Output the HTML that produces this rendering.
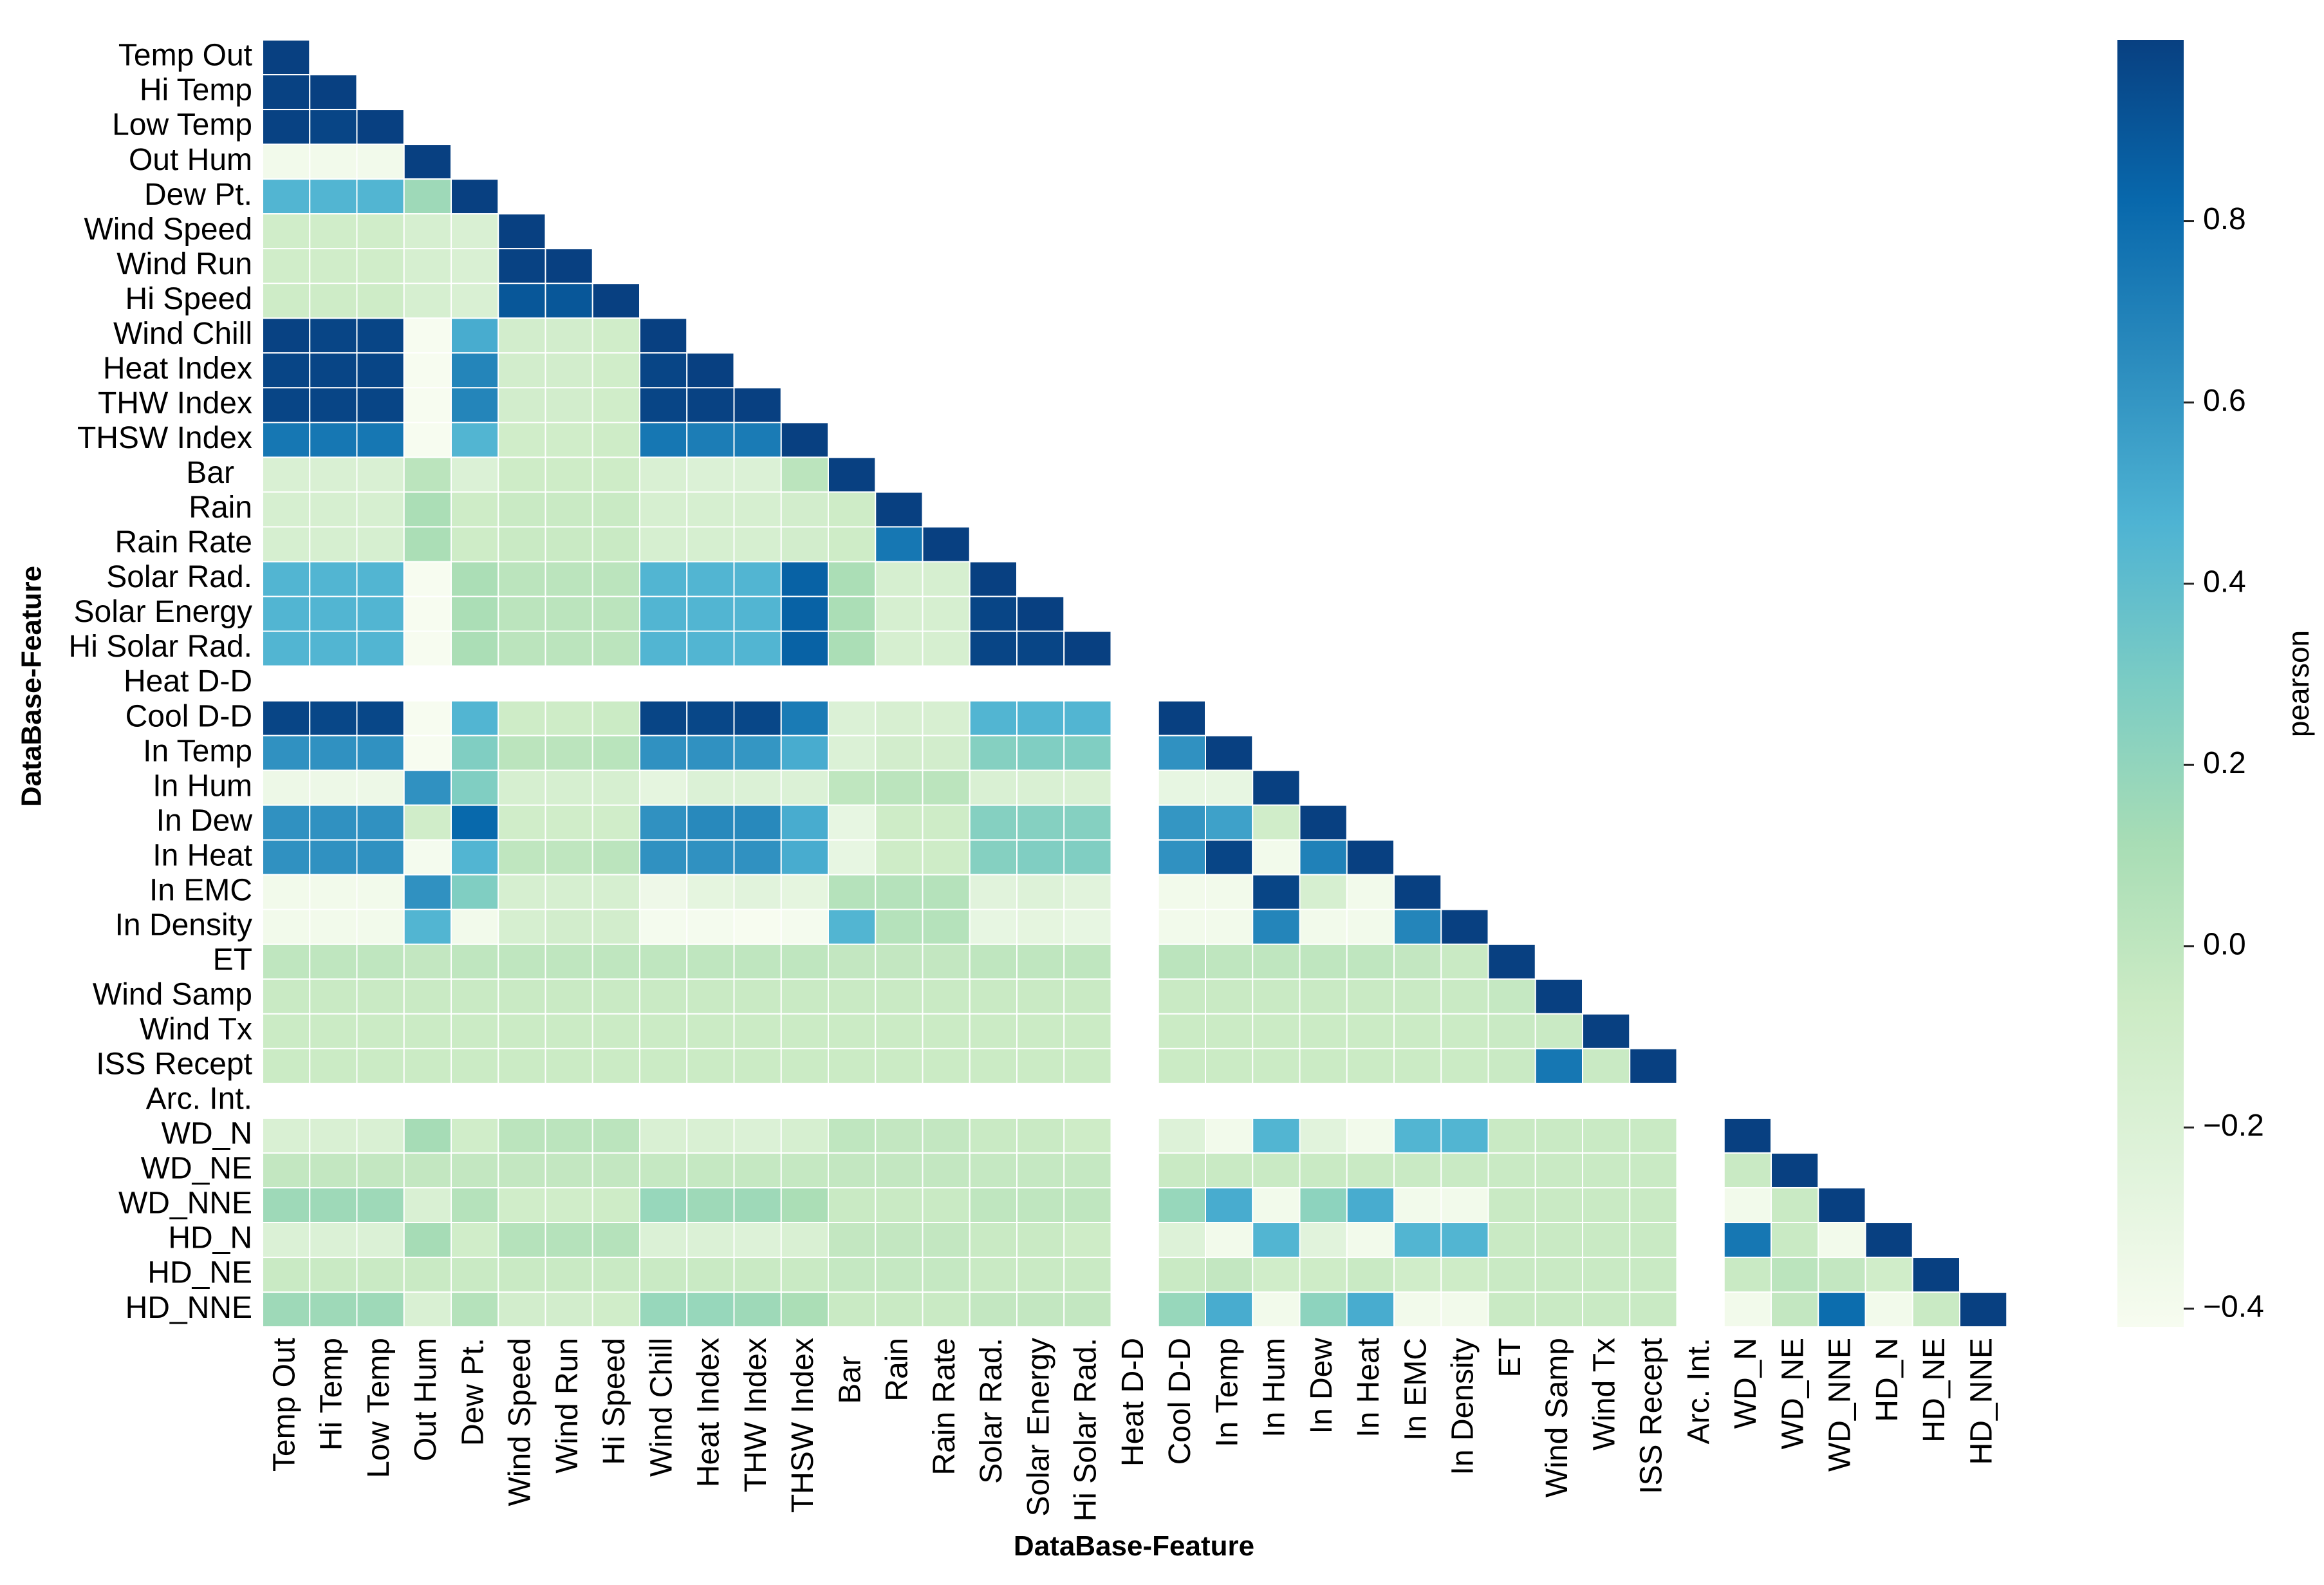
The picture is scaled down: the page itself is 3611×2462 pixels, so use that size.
<!DOCTYPE html>
<html><head><meta charset="utf-8"><style>
html,body{margin:0;padding:0;background:#fff;}
svg{display:block;font-family:"Liberation Sans",Arial,sans-serif;}
</style></head><body>
<svg id="chart" width="3611" height="2462" viewBox="0 0 3611 2462" xmlns="http://www.w3.org/2000/svg">
<defs>
<linearGradient id="gnbu" x1="0" y1="1" x2="0" y2="0">
<stop offset="0" stop-color="#f7fcf0"/><stop offset="0.125" stop-color="#e0f3db"/><stop offset="0.25" stop-color="#ccebc5"/><stop offset="0.375" stop-color="#a8ddb5"/><stop offset="0.5" stop-color="#7bccc4"/><stop offset="0.625" stop-color="#4eb3d3"/><stop offset="0.75" stop-color="#2b8cbe"/><stop offset="0.875" stop-color="#0868ac"/><stop offset="1" stop-color="#084081"/>
</linearGradient>
</defs>
<g id="cells"></g>
<g id="ylabels"></g>
<g id="xlabels"></g>
<rect x="3290" y="62" width="103" height="1999" fill="url(#gnbu)"/>
<g id="cbticks"></g>
<text x="3575" y="1062" font-size="46" text-anchor="middle" transform="rotate(-90 3575 1062)" dominant-baseline="middle">pearson</text>
<text x="1762" y="2416" font-size="44" font-weight="bold" text-anchor="middle">DataBase-Feature</text>
<text x="52" y="1066" font-size="44" font-weight="bold" text-anchor="middle" dominant-baseline="middle" transform="rotate(-90 52 1066)">DataBase-Feature</text>
</svg>
<script>
const features = ["Temp Out","Hi Temp","Low Temp","Out Hum","Dew Pt.","Wind Speed","Wind Run","Hi Speed","Wind Chill","Heat Index","THW Index","THSW Index","Bar","Rain","Rain Rate","Solar Rad.","Solar Energy","Hi Solar Rad.","Heat D-D","Cool D-D","In Temp","In Hum","In Dew","In Heat","In EMC","In Density","ET","Wind Samp","Wind Tx","ISS Recept","Arc. Int.","WD_N","WD_NE","WD_NNE","HD_N","HD_NE","HD_NNE"];
const N = null;
const corr = [
[1],
[0.99,1],
[0.99,0.98,1],
[-0.38,-0.38,-0.38,1],
[0.45,0.45,0.45,0.15,1],
[-0.1,-0.1,-0.1,-0.15,-0.18,1],
[-0.1,-0.1,-0.1,-0.15,-0.18,0.99,1],
[-0.08,-0.08,-0.08,-0.15,-0.18,0.9,0.9,1],
[0.99,0.98,0.98,-0.42,0.5,-0.12,-0.12,-0.1,1],
[0.98,0.98,0.98,-0.42,0.68,-0.12,-0.12,-0.1,0.98,1],
[0.98,0.98,0.98,-0.42,0.68,-0.12,-0.12,-0.1,0.98,0.99,1],
[0.75,0.75,0.75,-0.42,0.45,-0.1,-0.1,-0.08,0.75,0.72,0.73,1],
[-0.18,-0.18,-0.18,0.02,-0.2,-0.08,-0.08,-0.08,-0.18,-0.2,-0.2,0.02,1],
[-0.15,-0.15,-0.15,0.1,-0.08,-0.05,-0.05,-0.05,-0.15,-0.15,-0.15,-0.12,-0.08,1],
[-0.15,-0.15,-0.15,0.1,-0.08,-0.05,-0.05,-0.05,-0.15,-0.15,-0.15,-0.12,-0.08,0.75,1],
[0.45,0.45,0.45,-0.42,0.1,0.02,0.02,0.02,0.45,0.45,0.45,0.85,0.1,-0.15,-0.15,1],
[0.45,0.45,0.45,-0.42,0.1,0.02,0.02,0.02,0.45,0.45,0.45,0.85,0.1,-0.15,-0.15,0.98,1],
[0.45,0.45,0.45,-0.42,0.1,0.02,0.02,0.02,0.45,0.45,0.45,0.85,0.1,-0.15,-0.15,0.98,0.98,1],
[N,N,N,N,N,N,N,N,N,N,N,N,N,N,N,N,N,N,N],
[0.98,0.97,0.97,-0.42,0.45,-0.08,-0.08,-0.06,0.98,0.97,0.97,0.73,-0.2,-0.16,-0.16,0.45,0.45,0.45,N,1],
[0.62,0.62,0.62,-0.42,0.27,0.02,0.02,0.03,0.62,0.62,0.6,0.5,-0.2,-0.12,-0.12,0.25,0.27,0.27,N,0.62,1],
[-0.34,-0.34,-0.34,0.62,0.27,-0.15,-0.15,-0.15,-0.28,-0.2,-0.2,-0.2,0.0,0.02,0.02,-0.18,-0.18,-0.18,N,-0.3,-0.3,1],
[0.62,0.62,0.62,-0.1,0.82,-0.1,-0.1,-0.1,0.62,0.66,0.66,0.5,-0.3,-0.08,-0.08,0.25,0.25,0.25,N,0.6,0.55,-0.1,1],
[0.62,0.62,0.62,-0.4,0.45,0.0,0.0,0.02,0.62,0.62,0.62,0.5,-0.3,-0.08,-0.08,0.25,0.27,0.27,N,0.62,0.98,-0.38,0.7,1],
[-0.38,-0.38,-0.38,0.62,0.27,-0.15,-0.15,-0.15,-0.35,-0.28,-0.25,-0.28,0.05,0.05,0.05,-0.25,-0.22,-0.25,N,-0.38,-0.38,0.98,-0.15,-0.38,1],
[-0.38,-0.38,-0.38,0.45,-0.38,-0.15,-0.12,-0.12,-0.4,-0.4,-0.42,-0.4,0.45,0.05,0.05,-0.3,-0.28,-0.3,N,-0.38,-0.38,0.68,-0.38,-0.38,0.68,1],
[0.0,0.0,0.0,-0.02,0.0,0.0,0.0,0.0,0.0,0.0,0.0,0.0,-0.02,-0.02,-0.02,0.0,0.0,0.0,N,0.02,0.0,0.0,0.0,0.0,-0.02,-0.05,1],
[-0.05,-0.05,-0.05,-0.05,-0.05,-0.05,-0.05,-0.05,-0.05,-0.05,-0.05,-0.05,-0.05,-0.05,-0.05,-0.05,-0.05,-0.05,N,-0.05,-0.05,-0.05,-0.05,-0.05,-0.05,-0.05,-0.03,1],
[-0.06,-0.06,-0.06,-0.06,-0.06,-0.06,-0.06,-0.06,-0.06,-0.06,-0.06,-0.06,-0.06,-0.06,-0.06,-0.06,-0.06,-0.06,N,-0.06,-0.06,-0.06,-0.06,-0.06,-0.06,-0.06,-0.05,-0.05,1],
[-0.06,-0.06,-0.06,-0.06,-0.06,-0.06,-0.06,-0.06,-0.06,-0.06,-0.06,-0.06,-0.06,-0.06,-0.06,-0.06,-0.06,-0.06,N,-0.06,-0.06,-0.06,-0.06,-0.06,-0.06,-0.06,-0.05,0.75,-0.05,1],
[N,N,N,N,N,N,N,N,N,N,N,N,N,N,N,N,N,N,N,N,N,N,N,N,N,N,N,N,N,N,N],
[-0.18,-0.18,-0.18,0.12,-0.1,0.02,0.02,0.02,-0.18,-0.18,-0.2,-0.15,0.0,-0.02,-0.02,-0.05,-0.05,-0.08,N,-0.22,-0.38,0.45,-0.25,-0.38,0.45,0.45,-0.05,-0.05,-0.05,-0.05,N,1],
[-0.02,-0.02,-0.02,-0.02,-0.02,-0.02,-0.02,-0.02,-0.03,-0.03,-0.03,-0.03,-0.02,-0.02,-0.02,-0.03,-0.03,-0.03,N,-0.05,-0.05,-0.05,-0.05,-0.05,-0.05,-0.05,-0.05,-0.05,-0.05,-0.05,N,-0.05,1],
[0.15,0.15,0.15,-0.18,0.05,-0.1,-0.1,-0.08,0.18,0.15,0.15,0.1,-0.05,-0.05,-0.05,0.0,0.0,0.0,N,0.18,0.5,-0.38,0.22,0.5,-0.38,-0.38,-0.05,-0.05,-0.05,-0.05,N,-0.38,-0.05,1],
[-0.2,-0.2,-0.2,0.12,-0.1,0.05,0.05,0.05,-0.2,-0.2,-0.22,-0.18,-0.02,-0.02,-0.02,-0.05,-0.05,-0.08,N,-0.22,-0.38,0.45,-0.25,-0.38,0.45,0.45,-0.05,-0.05,-0.05,-0.05,N,0.75,-0.05,-0.38,1],
[-0.05,-0.05,-0.05,-0.05,-0.05,-0.05,-0.05,-0.05,-0.05,-0.05,-0.05,-0.05,-0.03,-0.03,-0.03,-0.05,-0.05,-0.05,N,-0.05,-0.02,-0.1,-0.08,-0.05,-0.1,-0.08,-0.05,-0.05,-0.05,-0.05,N,-0.05,0.02,-0.02,-0.1,1],
[0.15,0.15,0.15,-0.18,0.05,-0.12,-0.12,-0.1,0.18,0.18,0.15,0.1,-0.05,-0.05,-0.05,-0.02,-0.02,-0.02,N,0.18,0.5,-0.38,0.22,0.5,-0.38,-0.38,-0.05,-0.05,-0.05,-0.05,N,-0.38,-0.02,0.8,-0.38,-0.05,1]
];
const cbTicks = [-0.4,-0.2,0.0,0.2,0.4,0.6,0.8];
const cbLabels = ["\u22120.4","\u22120.2","0.0","0.2","0.4","0.6","0.8"];

const VMIN=-0.42, VMAX=1.0;
const X0=408, Y0=62, CW=73.25, CH=54.03;
const CB_TOP=62, CB_BOT=2061, CB_X=3393;
const FS=48;
const stops=["#f7fcf0","#e0f3db","#ccebc5","#a8ddb5","#7bccc4","#4eb3d3","#2b8cbe","#0868ac","#084081"].map(h=>[parseInt(h.slice(1,3),16),parseInt(h.slice(3,5),16),parseInt(h.slice(5,7),16)]);
function color(v){let t=(v-VMIN)/(VMAX-VMIN);t=Math.max(0,Math.min(1,t))*8;const i=Math.min(7,Math.floor(t)),f=t-i;const a=stops[i],b=stops[i+1];return `rgb(${a.map((c,k)=>Math.round(c+(b[k]-c)*f)).join(',')})`;}
const xPos=j=>X0+j*CW, yPos=i=>Y0+i*CH;
const cbY=v=>CB_BOT-(v-VMIN)/(VMAX-VMIN)*(CB_BOT-CB_TOP);
const NS="http://www.w3.org/2000/svg";
const cells=document.getElementById('cells');
corr.forEach((row,i)=>row.forEach((v,j)=>{
  if(v===null) return;
  const r=document.createElementNS(NS,'rect');
  r.setAttribute('x',xPos(j));r.setAttribute('y',yPos(i));
  r.setAttribute('width',CW);r.setAttribute('height',CH);
  r.setAttribute('fill',color(v));r.setAttribute('stroke','#fff');r.setAttribute('stroke-width','2');
  
  
  cells.appendChild(r);
}));
const yl=document.getElementById('ylabels'), xl=document.getElementById('xlabels');
features.forEach((f,i)=>{
  const off = f==="Bar"?28:0;
  const t=document.createElementNS(NS,'text');
  t.setAttribute('x',392-off);t.setAttribute('y',yPos(i)+CH/2);
  t.setAttribute('text-anchor','end');t.setAttribute('dominant-baseline','middle');t.setAttribute('font-size',FS);
  t.textContent=f;
  
  
  yl.appendChild(t);
  const s=document.createElementNS(NS,'text');
  const cx=xPos(i)+CW/2, cy=2078+off;
  s.setAttribute('x',cx);s.setAttribute('y',cy);
  s.setAttribute('text-anchor','end');s.setAttribute('dominant-baseline','middle');s.setAttribute('font-size',FS);
  s.setAttribute('transform',`rotate(-90 ${cx} ${cy})`);
  s.textContent=f;
  
  
  xl.appendChild(s);
});
const cbg=document.getElementById('cbticks');
cbTicks.forEach((v,k)=>{
  const y=cbY(v);
  const l=document.createElementNS(NS,'line');
  l.setAttribute('x1',CB_X);l.setAttribute('x2',CB_X+16);l.setAttribute('y1',y);l.setAttribute('y2',y);
  l.setAttribute('stroke','#222');l.setAttribute('stroke-width','3');
  
  
  cbg.appendChild(l);
  const t=document.createElementNS(NS,'text');
  t.setAttribute('x',CB_X+30);t.setAttribute('y',y);t.setAttribute('dominant-baseline','middle');t.setAttribute('font-size',FS);
  t.textContent=cbLabels[k];
  
  
  cbg.appendChild(t);
});
</script>
</body></html>
